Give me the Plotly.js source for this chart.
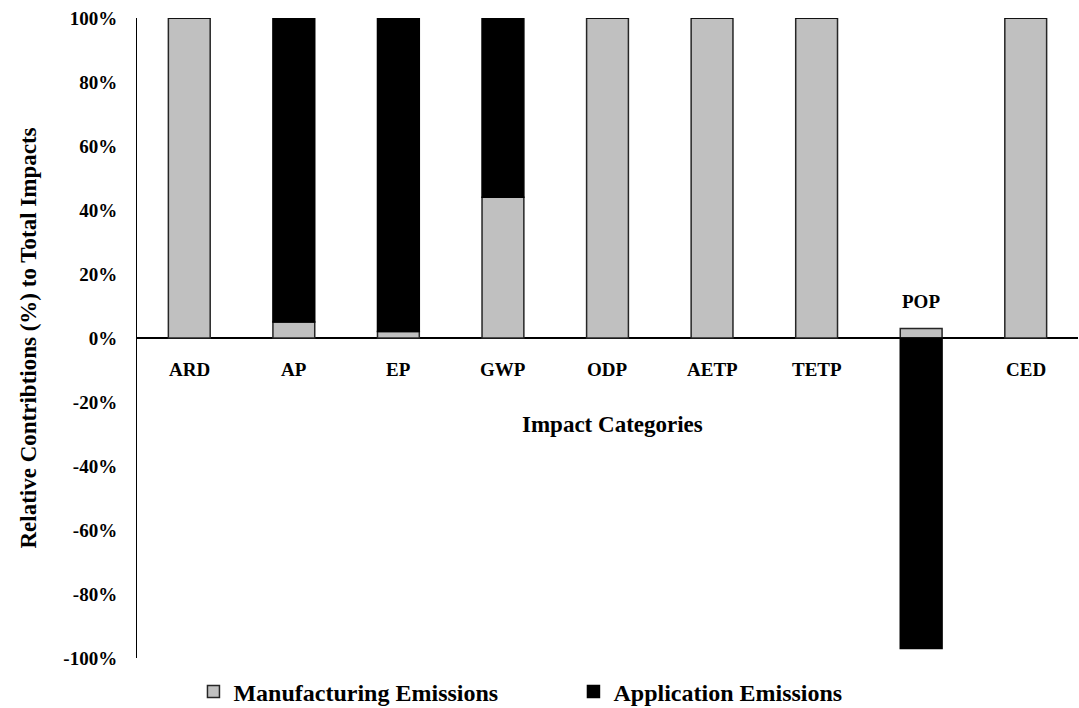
<!DOCTYPE html>
<html>
<head>
<meta charset="utf-8">
<script src="https://cdn.plot.ly/plotly-3.0.1.min.js"></script>
<style>
  html, body { margin: 0; padding: 0; background: #fff; }
  #chart { width: 1079px; height: 708px; }
</style>
</head>
<body>
<div id="chart"></div>
<script>
// Impact categories of the life-cycle assessment
const categories = ["ARD", "AP", "EP", "GWP", "ODP", "AETP", "TETP", "POP", "CED"];

// Relative contribution (%) of each life-cycle stage to the total impact
const manufacturing = [100, 5, 2, 44, 100, 100, 100, 3, 100];
const application   = [0, 95, 98, 56, 0, 0, 0, -97, 0];

const yTicks = [-100, -80, -60, -40, -20, 0, 20, 40, 60, 80, 100];

const serif = "Liberation Serif, 'Times New Roman', Times, serif";

const traces = [
  {
    type: "bar",
    name: "Manufacturing Emissions",
    x: categories,
    y: manufacturing,
    marker: { color: "#c0c0c0", line: { color: "#262626", width: 1.5 } },
    hoverinfo: "x+y+name"
  },
  {
    type: "bar",
    name: "Application Emissions",
    x: categories,
    y: application,
    marker: { color: "#000000", line: { color: "#000000", width: 1.5 } },
    hoverinfo: "x+y+name"
  }
];

// Category labels sit under the zero line, or above the positive stack
// when the bar hangs below zero.
const annotations = categories.map((c, i) => {
  const total = manufacturing[i] + application[i];
  const below = total < 0;
  return {
    x: c,
    y: below ? Math.max(manufacturing[i], 0) : 0,
    xref: "x",
    yref: "y",
    text: c,
    showarrow: false,
    yanchor: below ? "bottom" : "top",
    yshift: below ? 14 : -19,
    font: { family: serif, size: 19, color: "#000", weight: "bold" }
  };
});

annotations.push({
  x: 0.505,
  y: 0,
  xref: "paper",
  yref: "y",
  text: "Impact Categories",
  showarrow: false,
  yanchor: "top",
  yshift: -72,
  font: { family: serif, size: 23, color: "#000", weight: "bold" }
});

const layout = {
  width: 1079,
  height: 708,
  margin: { l: 137, r: 1, t: 18, b: 50, autoexpand: false },
  paper_bgcolor: "#ffffff",
  plot_bgcolor: "#ffffff",
  barmode: "relative",
  bargap: 0.6,
  showlegend: true,
  legend: {
    orientation: "h",
    x: 0.06,
    xanchor: "left",
    y: -0.053,
    yanchor: "middle",
    entrywidth: 335,
    entrywidthmode: "pixels",
    font: { family: serif, size: 24, color: "#000", weight: "bold" },
    traceorder: "normal",
    bgcolor: "rgba(0,0,0,0)"
  },
  xaxis: {
    type: "category",
    showticklabels: false,
    showgrid: false,
    zeroline: false,
    showline: false,
    ticks: ""
  },
  yaxis: {
    range: [-100, 100],
    tickvals: yTicks,
    ticktext: yTicks.map(v => v + "%"),
    showgrid: false,
    zeroline: true,
    zerolinecolor: "#000",
    zerolinewidth: 1.5,
    showline: true,
    linecolor: "#000",
    linewidth: 1,
    ticks: "",
    ticklabelstandoff: 15,
    tickfont: { family: serif, size: 19, color: "#000", weight: "bold" },
    title: {
      text: "Relative Contribtions (%) to Total Impacts",
      font: { family: serif, size: 23, color: "#000", weight: "bold" },
      standoff: 20
    }
  },
  annotations: annotations
};

Plotly.newPlot("chart", traces, layout, { displayModeBar: false, staticPlot: true });
</script>
</body>
</html>
